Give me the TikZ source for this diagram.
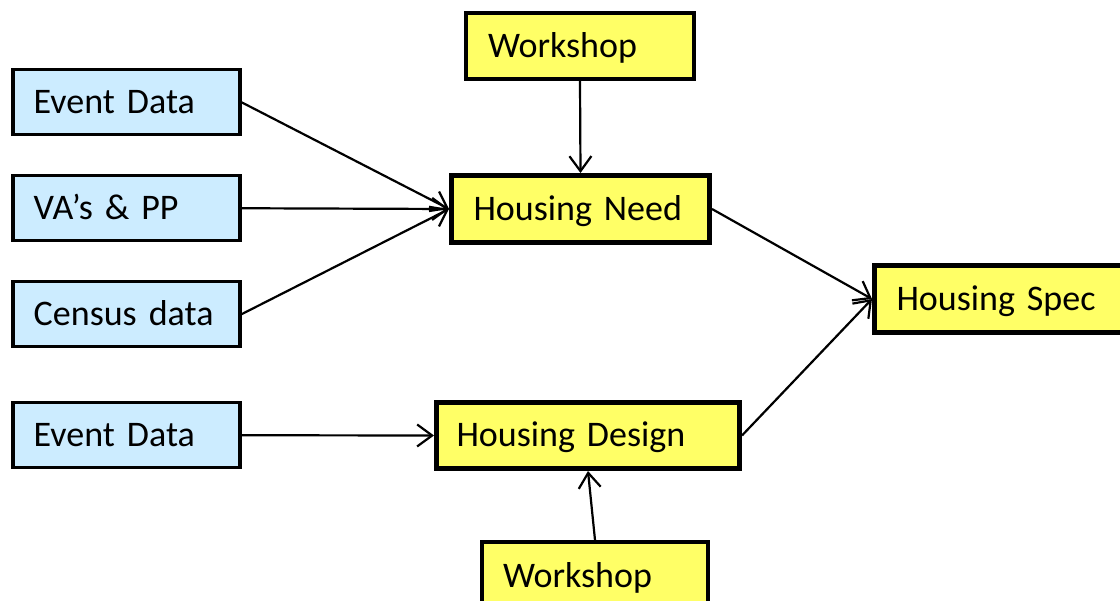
\documentclass[tikz,border=0pt]{standalone}
\usepackage{fontspec}
\setmainfont{Carlito}
\usetikzlibrary{arrows.meta}
\definecolor{bluefill}{HTML}{CCECFF}
\definecolor{yelfill}{HTML}{FFFF66}
\newcommand\myboxfont{\fontsize{36}{42}\selectfont\spaceskip=5pt\relax}
\begin{document}
\begin{tikzpicture}[x=1pt,y=-1pt,
  box/.style={draw=black, anchor=north west, align=left, text height=31pt, text depth=8pt,
    font=\myboxfont, inner ysep=0pt},
  src/.style={box, line width=3.5pt, fill=bluefill, minimum height=65pt, inner xsep=21pt, text width=185pt},
  yel/.style={box, line width=4.5pt, fill=yelfill},
  arr/.style={line width=2.2pt, -{Straight Barb[length=15pt,width=22pt,line width=2.2pt]}}]
\useasboundingbox (0,0) rectangle (1120,601);
\clip (0,0) rectangle (1120,601);
\fill[white] (0,0) rectangle (1120,601);
% sources
\node[src] (ev1) at (11,68) {Event Data};
\node[src] (va) at (11,174) {VA’s \& PP};
\node[src] (cen) at (11,280) {Census data};
\node[src] (ev2) at (11,401) {Event Data};
% yellow boxes
\node[yel, line width=4pt, minimum height=66pt, inner xsep=22pt, text width=184pt] (ws1) at (464,11) {Workshop};
\node[yel, line width=5pt, minimum height=67pt, inner xsep=22pt, text width=214pt] (need) at (449,173) {Housing Need};
\node[yel, line width=5pt, minimum height=67pt, inner xsep=22pt, text width=223pt] (spec) at (872,263) {Housing Spec};
\node[yel, line width=5pt, minimum height=66pt, inner xsep=20pt, text width=263pt] (design) at (434,400) {Housing Design};
\node[yel, line width=4pt, minimum height=67pt, inner xsep=21pt, text width=184pt] (ws2) at (480,540) {Workshop};
% connectors
\draw[arr] (ev1.east) -- (need.west);
\draw[arr] (va.east) -- (need.west);
\draw[arr] (cen.east) -- (need.west);
\draw[arr] (ws1.south) -- (need.north);
\draw[arr] (ev2.east) -- (design.west);
\draw[arr] (ws2.north) -- (design.south);
\draw[arr] (need.east) -- (spec.west);
\draw[arr] (design.east) -- (spec.west);
\end{tikzpicture}
\end{document}
